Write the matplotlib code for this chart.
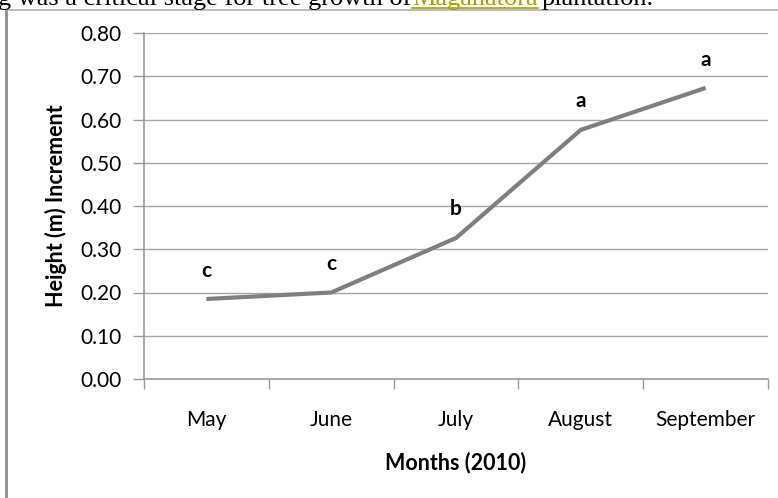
import matplotlib
matplotlib.use("Agg")
import matplotlib.pyplot as plt
from matplotlib.lines import Line2D

months = ["May", "June", "July", "August", "September"]
height_increment = [0.185, 0.200, 0.326, 0.576, 0.673]
letters = ["c", "c", "b", "a", "a"]
letter_y = [0.250, 0.265, 0.392, 0.642, 0.737]
y_ticks = [0.0, 0.1, 0.2, 0.3, 0.4, 0.5, 0.6, 0.7, 0.8]

plt.rcParams["font.family"] = ["Lato", "DejaVu Sans"]

W, H = 778, 498
fig = plt.figure(figsize=(W / 100, H / 100), dpi=100)
ax = fig.add_axes([144 / W, (H - 379) / H, (768 - 144) / W, (379 - 33) / H])

x = list(range(len(months)))
ax.plot(x, height_increment, color="#7f7f7f", lw=3, solid_capstyle="butt", zorder=3)
for xi, lab, ly in zip(x, letters, letter_y):
    ax.text(xi, ly, lab, ha="center", va="center", fontsize=15,
            fontweight="bold", color="black")

ax.set_xlim(-0.5, len(months) - 0.5)
ax.set_ylim(0, 0.8)
ax.set_yticks(y_ticks)
ax.set_yticklabels([f"{v:.2f}" for v in y_ticks], fontsize=15)
ax.set_xticks([i - 0.5 for i in range(len(months) + 1)])
ax.set_xticklabels([])
ax.set_xticks(x, minor=True)
ax.set_xticklabels(months, minor=True, fontsize=15)
ax.tick_params(axis="x", which="minor", length=0, pad=22)
ax.tick_params(axis="x", which="major", length=7, color="#9a9a9a", width=1)
ax.tick_params(axis="y", length=8, color="#9a9a9a", width=1, pad=8)
ax.grid(axis="y", color="#a6a6a6", lw=1)
ax.set_axisbelow(True)
for s in ["top", "right"]:
    ax.spines[s].set_visible(False)
for s in ["left", "bottom"]:
    ax.spines[s].set_color("#9a9a9a")
    ax.spines[s].set_linewidth(1.2)

ax.set_ylabel("Height (m) Increment", fontsize=15.5, fontweight="bold", labelpad=10)
ax.set_xlabel("Months (2010)", fontsize=15.5, fontweight="bold", labelpad=16)

# outer frame of the embedded chart
fig.add_artist(Line2D([6 / W, 6 / W], [0, 1 - 10 / H], color="#8c8c8c", lw=2,
                      transform=fig.transFigure))
fig.add_artist(Line2D([6 / W, 1], [1 - 10 / H, 1 - 10 / H], color="#b0b0b0", lw=1.2,
                      transform=fig.transFigure))

# partially cut-off line of document text above the chart
base = 1 - 5 / H
fig.text(-2 / W, base, "g was a critical stage for tree growth of",
         fontsize=19, family="Liberation Serif", va="baseline", ha="left")
fig.text(412 / W, base, "Magahatora", fontsize=19, family="Liberation Serif",
         va="baseline", ha="left", color="#a8a000")
fig.add_artist(Line2D([412 / W, 538 / W], [1 - 8 / H, 1 - 8 / H], color="#a8a000",
                      lw=1.2, transform=fig.transFigure))
fig.text(542 / W, base, "plantation.", fontsize=19, family="Liberation Serif",
         va="baseline", ha="left")

fig.savefig("out.png", dpi=100)
